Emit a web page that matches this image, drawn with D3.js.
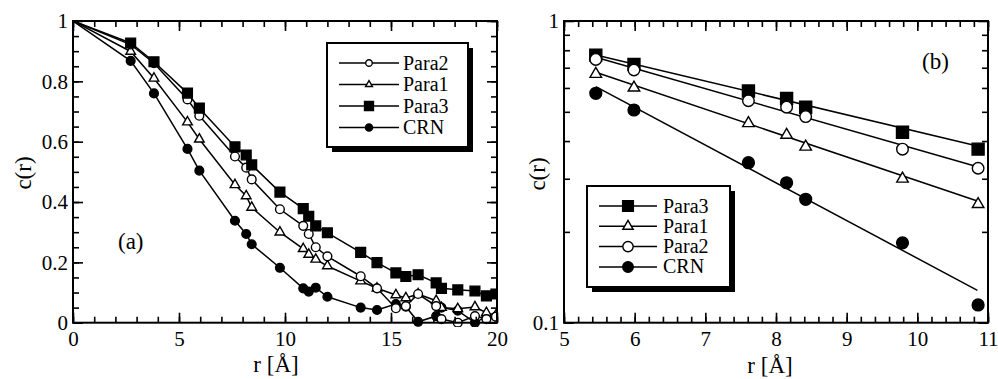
<!DOCTYPE html>
<html>
<head>
<meta charset="utf-8">
<script src="https://cdn.jsdelivr.net/npm/d3@7"></script>
<style>
  body { margin: 0; background: #fff; }
  svg text { font-family: "Liberation Serif", "Times New Roman", Times, serif !important; fill: #000; }
</style>
</head>
<body>
<svg id="chart" width="998" height="379"></svg>
<script>
// ---- panel (a): c(r) vs r, linear axes ----
const rA = [0, 2.72, 3.82, 5.4, 5.96, 7.64, 8.17, 8.43, 9.76, 10.86, 11.12, 11.45, 12.0,
  13.57, 14.34, 15.23, 15.7, 16.28, 17.13, 17.38, 18.15, 18.96, 19.5, 19.95];
const para3A = [1, 0.927, 0.865, 0.761, 0.711, 0.583, 0.556, 0.523, 0.433, 0.378, 0.353, 0.321, 0.298,
  0.233, 0.199, 0.165, 0.153, 0.159, 0.132, 0.114, 0.109, 0.105, 0.089, 0.095];
const para2A = [1, 0.922, 0.86, 0.74, 0.686, 0.551, 0.514, 0.475, 0.376, 0.321, 0.294, 0.25, 0.22,
  0.154, 0.114, 0.048, 0.055, 0.095, 0.055, 0.012, 0.0, 0.022, 0.012, 0.02];
const para1A = [1, 0.899, 0.81, 0.665, 0.608, 0.457, 0.42, 0.382, 0.3, 0.245, 0.226, 0.21, 0.188,
  0.138, 0.114, 0.092, 0.082, 0.095, 0.073, 0.05, 0.046, 0.052, 0.033, 0.025];
const crnA = [1, 0.868, 0.76, 0.576, 0.504, 0.338, 0.294, 0.26, 0.182, 0.114, 0.103, 0.116, 0.086,
  0.05, 0.042, 0.062, 0.053, 0.003, 0.022, 0.05, 0.04, 0.0, 0.02, 0.02];

// ---- panel (b): log scale, with exponential fits ----
const rB = [5.45, 5.99, 7.61, 8.15, 8.42, 9.79, 10.86];
const para3B = [0.771, 0.718, 0.586, 0.554, 0.518, 0.428, 0.376];
const para1B = [0.667, 0.601, 0.458, 0.419, 0.383, 0.3, 0.247];
const para2B = [0.746, 0.688, 0.544, 0.518, 0.482, 0.376, 0.325];
const crnB = [0.576, 0.507, 0.339, 0.291, 0.2565, 0.184, 0.1145];
const fitR = [5.45, 10.85];
const fitPara3 = [0.772, 0.385];
const fitPara1 = [0.676, 0.253];
const fitPara2 = [0.758, 0.329];
const fitCrn = [0.606, 0.128];

// tick values
const xTicksA = [0, 5, 10, 15, 20];
const yTicksA = [0, 0.2, 0.4, 0.6, 0.8, 1];
const xTicksB = [5, 6, 7, 8, 9, 10, 11];
const yTicksB = [0.1, 1];
const yMinorB = [0.2, 0.3, 0.4, 0.5, 0.6, 0.7, 0.8, 0.9];

const serif = "'Liberation Serif', 'Times New Roman', Times, serif";
const svg = d3.select("#chart");

const xA = d3.scaleLinear().domain([0, 20]).range([73, 497]);
const yA = d3.scaleLinear().domain([0, 1]).range([322.7, 21]);
const xB = d3.scaleLinear().domain([5, 11]).range([564, 988]);
const yB = d3.scaleLog().domain([0.1, 1]).range([322.7, 21]);

const fmt = (d) => d3.format("~g")(d);

const drawFrame = (x, y, xMajor, xMinor, yMajor, yMinor) => {
  const g = svg.append("g").attr("class", "frame");
  const [x0, x1] = x.range();
  const [y0, y1] = y.range();
  const axes = [
    [d3.axisBottom(x), `translate(0,${y0})`, xMajor, xMinor, true, true],
    [d3.axisTop(x), `translate(0,${y1})`, xMajor, xMinor, false, true],
    [d3.axisLeft(y), `translate(${x0},0)`, yMajor, yMinor, true, false],
    [d3.axisRight(y), `translate(${x1},0)`, yMajor, yMinor, false, false]
  ];
  axes.forEach(([axis, tr, major, minor, labels, isX]) => {
    g.append("g").attr("transform", tr)
      .call(axis.tickValues(minor).tickSize(-6).tickFormat(""))
      .call((s) => s.select(".domain").remove());
    g.append("g").attr("transform", tr)
      .call(axis.tickValues(major).tickSize(-10)
        .tickPadding(isX ? 8 : 5).tickFormat(labels ? fmt : ""))
      .call((s) => s.select(".domain").remove())
      .call((s) => s.selectAll("text").style("font-size", "21px")
        .style("font-family", serif));
  });
  g.selectAll("g").attr("font-family", null);
  g.selectAll(".tick line").attr("stroke", "#000").attr("stroke-width", 1.6);
  g.append("rect")
    .attr("x", x0).attr("y", y1)
    .attr("width", x1 - x0).attr("height", y0 - y1)
    .attr("fill", "none").attr("stroke", "#000").attr("stroke-width", 2);
};

const marker = (type, size) => {
  const sym = { square: d3.symbolSquare, circle: d3.symbolCircle, triangle: d3.symbolTriangle }[type];
  return d3.symbol().type(sym).size(size)();
};

const drawMarkers = (g, pts, type, fill, size) => {
  g.selectAll(null).data(pts).join("path")
    .attr("transform", (d) => `translate(${d[0]},${d[1]})`)
    .attr("d", marker(type, size))
    .attr("fill", fill)
    .attr("stroke", "#000")
    .attr("stroke-width", 1.4);
};

const drawLegend = (x, y, w, h, items, rowGap, lineX, textX, fontSize) => {
  const g = svg.append("g").attr("transform", `translate(${x},${y})`);
  g.append("rect").attr("x", 5).attr("y", 5).attr("width", w).attr("height", h).attr("fill", "#000");
  g.append("rect").attr("width", w).attr("height", h)
    .attr("fill", "#fff").attr("stroke", "#000").attr("stroke-width", 2);
  items.forEach((it, i) => {
    const cy = rowGap[0] + i * rowGap[1];
    g.append("line").attr("x1", lineX[0]).attr("x2", lineX[1])
      .attr("y1", cy).attr("y2", cy).attr("stroke", "#000").attr("stroke-width", 1.5);
    g.append("path")
      .attr("transform", `translate(${(lineX[0] + lineX[1]) / 2},${cy})`)
      .attr("d", marker(it.type, it.size))
      .attr("fill", it.fill).attr("stroke", "#000").attr("stroke-width", 1.4);
    g.append("text").attr("x", textX).attr("y", cy + 6.5)
      .style("font-family", serif)
      .style("font-size", fontSize + "px").text(it.label);
  });
};

const label = (x, y, txt, anchor, rotate) => {
  svg.append("text")
    .attr("transform", `translate(${x},${y})` + (rotate ? " rotate(-90)" : ""))
    .attr("text-anchor", anchor)
    .style("font-family", serif)
    .style("font-size", "23px")
    .text(txt);
};

// ---------- panel (a) ----------
svg.append("clipPath").attr("id", "clipA").append("rect")
  .attr("x", 73).attr("y", 15).attr("width", 424).attr("height", 312);

const seriesA = [
  { label: "CRN", values: crnA, type: "circle", fill: "#000", size: 60 },
  { label: "Para1", values: para1A, type: "triangle", fill: "#fff", size: 40 },
  { label: "Para2", values: para2A, type: "circle", fill: "#fff", size: 60 },
  { label: "Para3", values: para3A, type: "square", fill: "#000", size: 95 }
];

const plotA = svg.append("g").attr("clip-path", "url(#clipA)");
seriesA.forEach((s) => {
  const pts = rA.map((r, i) => [xA(r), yA(s.values[i])]);
  plotA.append("path").attr("d", d3.line()(pts))
    .attr("fill", "none").attr("stroke", "#000").attr("stroke-width", 1.5);
  drawMarkers(plotA, pts.filter((p, i) => rA[i] > 0), s.type, s.fill, s.size);
});

drawFrame(xA, yA, xTicksA, d3.range(0, 21, 1), yTicksA, d3.range(0, 1.001, 0.05));

drawLegend(327, 43, 141, 104, [
  { label: "Para2", type: "circle", fill: "#fff", size: 34 },
  { label: "Para1", type: "triangle", fill: "#fff", size: 20 },
  { label: "Para3", type: "square", fill: "#000", size: 80 },
  { label: "CRN", type: "circle", fill: "#000", size: 40 }
], [20, 21.5], [12, 72], 76, 20);

label(118, 249, "(a)", "start", false);
label(276, 372, "r [Å]", "middle", false);
label(31, 173, "c(r)", "middle", true);

// ---------- panel (b) ----------
const seriesB = [
  { label: "Para3", values: para3B, fit: fitPara3, type: "square", fill: "#000", size: 144 },
  { label: "Para1", values: para1B, fit: fitPara1, type: "triangle", fill: "#fff", size: 58 },
  { label: "Para2", values: para2B, fit: fitPara2, type: "circle", fill: "#fff", size: 105 },
  { label: "CRN", values: crnB, fit: fitCrn, type: "circle", fill: "#000", size: 110 }
];

const plotB = svg.append("g");
seriesB.forEach((s) => {
  const fitPts = fitR.map((r, i) => [xB(r), yB(s.fit[i])]);
  plotB.append("path").attr("d", d3.line()(fitPts))
    .attr("fill", "none").attr("stroke", "#000").attr("stroke-width", 1.5);
});
seriesB.forEach((s) => {
  const pts = rB.map((r, i) => [xB(r), yB(s.values[i])]);
  drawMarkers(plotB, pts, s.type, s.fill, s.size);
});

drawFrame(xB, yB, xTicksB, d3.range(5, 11.001, 0.2), yTicksB, yMinorB);

drawLegend(587, 186, 143, 101, seriesB.map((s) => ({
  label: s.label, type: s.type, fill: s.fill, size: s.size * 0.8
})), [20, 20.3], [12, 70], 76, 20);

label(922, 69, "(b)", "start", false);
label(770, 373, "r [Å]", "middle", false);
label(545, 174, "c(r)", "middle", true);
</script>
</body>
</html>
